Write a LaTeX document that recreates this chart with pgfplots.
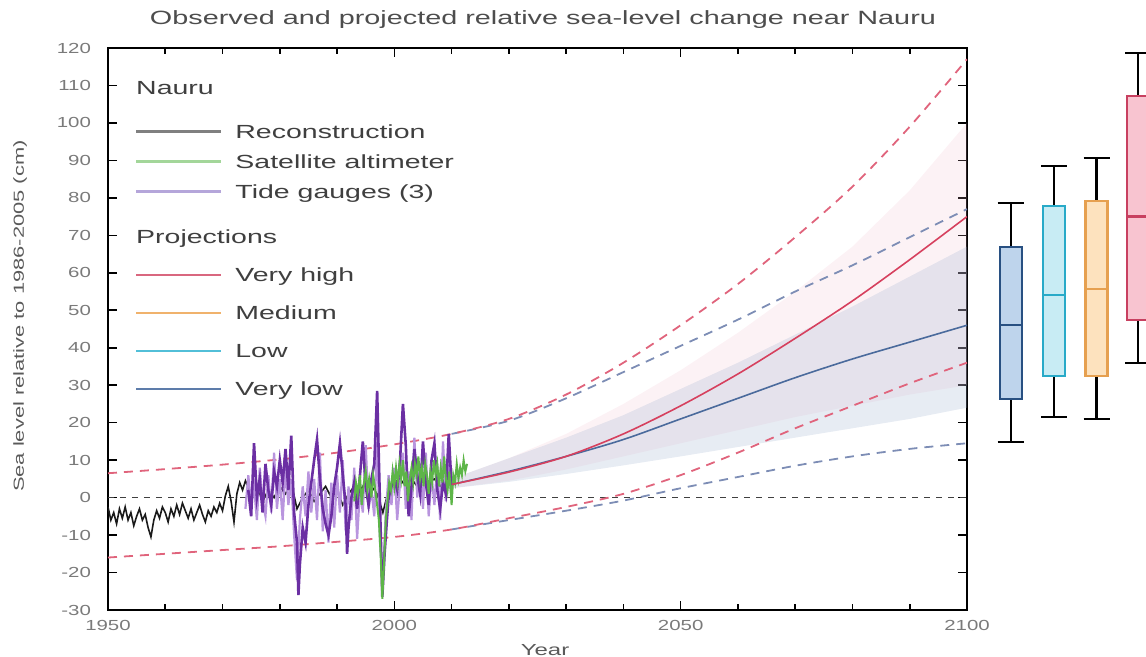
\documentclass[border=0pt]{standalone}
\usepackage{fontspec}
\setmainfont{Liberation Sans}[FakeStretch=1.5]
\newfontfamily\tickfont{Liberation Sans}[FakeStretch=1.4]
\usepackage{pgfplots}
\pgfplotsset{compat=1.18}
\definecolor{titlegray}{HTML}{4D4D4D}
\definecolor{tickgray}{HTML}{7A7A7A}
\definecolor{labgray}{HTML}{5A5A5A}
\definecolor{legtext}{HTML}{3F3F3F}
\definecolor{recon}{HTML}{1A1A1A}
\definecolor{reconleg}{HTML}{808080}
\definecolor{satgreen}{HTML}{5DB548}
\definecolor{satleg}{HTML}{A3D69A}
\definecolor{tgdark}{HTML}{6B2FA3}
\definecolor{tglight}{HTML}{B995DE}
\definecolor{tgleg}{HTML}{B5A6DA}
\definecolor{vhigh}{HTML}{D6405E}
\definecolor{vhighleg}{HTML}{D9677F}
\definecolor{medleg}{HTML}{F0B26C}
\definecolor{lowleg}{HTML}{52BFD8}
\definecolor{vlow}{HTML}{4A6A9C}
\definecolor{vlowleg}{HTML}{5D7CAA}
\definecolor{dashred}{HTML}{E0647C}
\definecolor{dashblue}{HTML}{7D8DB5}
\definecolor{bandred}{RGB}{240,185,200}
\definecolor{bandblue}{RGB}{160,178,208}
\definecolor{bxVLf}{HTML}{BED4EC}\definecolor{bxVLd}{HTML}{285082}
\definecolor{bxLf}{HTML}{C8ECF4}\definecolor{bxLd}{HTML}{28AAC8}
\definecolor{bxMf}{HTML}{FDE2BE}\definecolor{bxMd}{HTML}{E6A050}
\definecolor{bxHf}{HTML}{F8C4D0}\definecolor{bxHd}{HTML}{C84060}
\begin{document}
\begin{tikzpicture}
\begin{axis}[
  at={(54pt,23.5pt)}, anchor=south west,
  scale only axis, width=429.5pt, height=281pt,
  xmin=1950, xmax=2100, ymin=-30, ymax=120,
  xtick={1950,2000,2050,2100},
  minor xtick={1960,1970,1980,1990,2010,2020,2030,2040,2060,2070,2080,2090},
  ytick={-30,-20,...,120},
  tick align=inside,
  major tick length=4.5pt, minor tick length=3pt,
  axis line style={line width=1pt},
  tick style={black, line width=0.8pt},
  /pgf/number format/assume math mode=true,
  /pgf/number format/1000 sep={},
  tick label style={font=\fontsize{7.3}{8}\tickfont, text=tickgray},
  yticklabel style={xshift=-5pt},
  xticklabel style={yshift=-1.5pt},
  title={Observed and projected relative sea-level change near Nauru},
  title style={font=\fontsize{9.6}{11}\selectfont, text=titlegray, anchor=base, at={(axis description cs:0.5,1)}, yshift=5.75pt, xshift=2.75pt},
  xlabel={Year},
  xlabel style={at={(axis description cs:0.5,0)}, anchor=base, yshift=-23pt, xshift=3.75pt, font=\fontsize{8}{9}\selectfont, text=labgray},
  ylabel={Sea level relative to 1986-2005 (cm)},
  ylabel style={at={(axis description cs:-0.1024,0.523)}, anchor=center, font=\fontsize{7.3}{9}\selectfont, text=labgray},
  legend image code/.code={\draw[#1, line width=1.2pt] (0pt,0pt) -- (42.5pt,0pt);},
  legend style={at={(0.03143,0.9422)}, anchor=north west, draw=none, fill=none, inner sep=0pt, outer sep=0pt, row sep=7.5pt, column sep=6.5pt, cells={anchor=west}, nodes={inner sep=0pt, text height=7.2pt, text depth=0.3pt, font=\fontsize{9.5}{11}\selectfont, text=legtext}},
]
% bands
\addplot[forget plot, draw=none, fill=bandred, fill opacity=0.18] coordinates {
 (2010,5) (2020,10.5) (2030,17) (2040,25) (2050,34) (2060,44) (2070,55) (2080,67) (2090,82) (2100,100)
 (2100,30) (2090,27.5) (2080,24.5) (2070,21.5) (2060,18) (2050,14.5) (2040,11) (2030,7.5) (2020,4.5) (2010,2.5)} -- cycle;
\addplot[forget plot, draw=none, fill=bandblue, fill opacity=0.25] coordinates {
 (2010,5) (2020,10.5) (2030,16) (2040,22) (2050,29) (2060,36) (2070,43.5) (2080,51) (2090,59) (2100,67)
 (2100,24) (2090,21) (2080,18.5) (2070,16) (2060,13.5) (2050,11) (2040,8.6) (2030,6.3) (2020,4.2) (2010,2.5)} -- cycle;
% zero line
\addplot[forget plot, black!75, line width=0.6pt, dash pattern=on 3pt off 3pt] coordinates {(1950,0) (2100,0)};
% dashed envelopes
\addplot[forget plot, smooth, dashblue, line width=0.9pt, dash pattern=on 4.5pt off 3.5pt] coordinates {
 (2010,17) (2020,20.5) (2030,26.5) (2040,33.5) (2050,40.5) (2060,47.5) (2070,55) (2080,62) (2090,69.5) (2100,77)};
\addplot[forget plot, smooth, dashblue, line width=0.9pt, dash pattern=on 4.5pt off 3.5pt] coordinates {
 (2010,-8.5) (2020,-6) (2030,-3.5) (2040,-0.8) (2050,2.5) (2060,5.5) (2070,8.5) (2080,11) (2090,13) (2100,14.5)};
\addplot[forget plot, smooth, dashred, line width=0.9pt, dash pattern=on 4.5pt off 3.5pt] coordinates {
 (1950,6.5) (1960,7.6) (1970,8.8) (1980,10.2) (1990,12) (2000,14.2) (2010,17) (2020,21) (2030,27.5) (2040,36) (2050,46) (2060,57) (2070,69.5) (2080,83) (2090,99) (2100,117)};
\addplot[forget plot, smooth, dashred, line width=0.9pt, dash pattern=on 4.5pt off 3.5pt] coordinates {
 (1950,-16) (1960,-15) (1970,-14) (1980,-13) (1990,-11.8) (2000,-10.5) (2010,-8.5) (2020,-5.5) (2030,-2.5) (2040,1) (2050,6) (2060,12) (2070,18.5) (2080,24.5) (2090,30.5) (2100,36)};
% reconstruction
\addplot[forget plot, recon, line width=0.8pt] coordinates {
 (1950.0,-2.5) (1950.5,-6) (1951.0,-4) (1951.5,-7) (1952.0,-3) (1952.5,-5.5) (1953.0,-2.5) (1953.5,-6) (1954.0,-4) (1954.5,-7.5)
 (1955.0,-5) (1955.5,-3) (1956.0,-6) (1956.5,-4.5) (1957.0,-8) (1957.5,-10.5) (1958.0,-6) (1958.5,-3.5) (1959.0,-5.5) (1959.5,-2.5)
 (1960.0,-4) (1960.5,-6.5) (1961.0,-3) (1961.5,-5) (1962.0,-2) (1962.5,-4.5) (1963.0,-1.5) (1963.5,-3.5) (1964.0,-5.5) (1964.5,-3)
 (1965.0,-6) (1965.5,-4) (1966.0,-2) (1966.5,-4.5) (1967.0,-6.5) (1967.5,-3.5) (1968.0,-5) (1968.5,-2.5) (1969.0,-4) (1969.5,-1.5)
 (1970.0,-3.5) (1970.5,0.5) (1971.0,3) (1971.5,-1) (1972.0,-6.5) (1972.5,1) (1973.0,4) (1973.5,2) (1974.0,4.5)
 (1975,1) (1976,3) (1977,-1) (1978,2) (1979,0) (1980,3) (1981,1) (1982,4) (1983,-3) (1984,0) (1985,2) (1986,-1) (1987,1) (1988,3)
 (1989,0) (1990,2) (1991,-2) (1992,1) (1993,3) (1994,2) (1995,4) (1996,3) (1997,1) (1998,-4) (1999,2) (2000,4) (2001,5) (2002,3)
 (2003,5) (2004,3) (2005,6) (2006,4) (2007,5) (2008,3) (2009,5) (2010,4)};
% tide gauges (light)
\addplot[forget plot, tglight, line width=1.1pt] coordinates {
 (1974.0,-3) (1974.5,6) (1975.0,-2) (1975.5,3) (1976.0,-6) (1976.5,8) (1977.0,-1) (1977.5,-5) (1978.0,6) (1978.5,-4)
 (1979.0,12) (1979.5,-3) (1980.0,5) (1980.5,-6) (1981.0,8) (1981.5,-2) (1982.0,5) (1982.5,-10) (1983.0,-22) (1983.5,-6)
 (1984.0,3) (1984.5,-5) (1985.0,7) (1985.5,-4) (1986.0,5) (1986.5,-6) (1987.0,12) (1987.5,-9) (1988.0,2) (1988.5,-12)
 (1989.0,4) (1989.5,-8) (1990.0,6) (1990.5,-4) (1991.0,10) (1991.5,-9) (1992.0,3) (1992.5,-6) (1993.0,8) (1993.5,-11)
 (1994.0,2) (1994.5,-4) (1995.0,14) (1995.5,-3) (1996.0,2) (1996.5,-5) (1997.0,15) (1997.5,-12) (1998.0,-22) (1998.5,-4)
 (1999.0,6) (1999.5,-2) (2000.0,8) (2000.5,-6) (2001.0,4) (2001.5,12) (2002.0,-3) (2002.5,7) (2003.0,-6) (2003.5,16)
 (2004.0,0) (2004.5,9) (2005.0,-3) (2005.5,12) (2006.0,-5) (2006.5,6) (2007.0,-2) (2007.5,9) (2008.0,-6) (2008.5,15)
 (2009.0,-1) (2009.5,7) (2010.0,0)};
% tide gauges (dark)
\addplot[forget plot, tgdark, line width=1.3pt] coordinates {
 (1974.5,2) (1975.0,-5) (1975.5,14.5) (1976.0,0) (1976.5,5) (1977.0,-4) (1977.5,9) (1978.0,2) (1978.5,-2) (1979.0,7)
 (1979.5,3) (1980.0,10) (1980.5,4) (1981.0,13) (1981.5,2) (1982.0,16.5) (1982.5,-4) (1983.0,-12) (1983.25,-26) (1983.5,-18)
 (1984.0,-8) (1984.5,-12) (1985.0,-2) (1985.5,4) (1986.0,10) (1986.5,15.5) (1987.0,5) (1987.5,-3) (1988.0,-7) (1988.5,-10)
 (1989.0,-5) (1989.5,3) (1990.0,8) (1990.5,14.5) (1991.0,6) (1991.5,-2) (1991.75,-15) (1992.0,-8) (1992.5,0) (1993.0,4)
 (1993.5,-3) (1994.0,6) (1994.5,15) (1995.0,3) (1995.5,-2) (1996.0,5) (1996.5,9) (1997.0,28.5) (1997.3,10) (1997.6,-8)
 (1997.9,-26.5) (1998.3,-15) (1998.7,-6) (1999.0,0) (1999.5,3) (2000.0,5) (2000.5,2) (2001.0,10) (2001.5,25) (2002.0,14)
 (2002.5,-5) (2003.0,3) (2003.5,13) (2004.0,6) (2004.5,1) (2005.0,15) (2005.5,4) (2006.0,-2) (2006.5,10) (2007.0,14.5)
 (2007.5,2) (2008.0,-3) (2008.5,4) (2009.0,1) (2009.5,17) (2010.0,3) (2010.5,5)};
% satellite altimeter
\addplot[forget plot, satgreen, line width=1pt] coordinates {
 (1993.0,-1) (1993.3,4) (1993.6,1) (1994.0,6) (1994.3,-2) (1994.6,3) (1995.0,7) (1995.3,2) (1995.6,5) (1996.0,0)
 (1996.3,6) (1996.6,3) (1997.0,-2) (1997.3,-6) (1997.6,-15) (1997.9,-27) (1998.2,-18) (1998.5,-6) (1998.8,-1) (1999.1,4)
 (1999.4,2) (1999.7,7) (2000.0,3) (2000.3,8) (2000.6,4) (2000.9,9) (2001.2,5) (2001.5,10) (2001.8,3) (2002.1,7)
 (2002.4,-1) (2002.7,5) (2003.0,8) (2003.3,4) (2003.6,9) (2003.9,6) (2004.2,11) (2004.5,5) (2004.8,8) (2005.1,3)
 (2005.4,9) (2005.7,6) (2006.0,1) (2006.3,7) (2006.6,4) (2006.9,10) (2007.2,6) (2007.5,9) (2007.8,3) (2008.1,8)
 (2008.4,4) (2008.7,11) (2009.0,5) (2009.3,2) (2009.6,7) (2010.0,-2) (2010.3,6) (2010.6,4) (2010.9,9) (2011.2,5)
 (2011.5,8) (2011.8,6) (2012.1,10) (2012.4,7) (2012.7,9)};
% medians
\addplot[forget plot, smooth, vlow, line width=0.8pt] coordinates {
 (2010,3.5) (2020,7) (2030,11) (2040,15.5) (2050,21) (2060,26.5) (2070,32) (2080,37) (2090,41.5) (2100,46)};
\addplot[forget plot, smooth, vhigh, line width=0.8pt] coordinates {
 (2010,3.5) (2020,6.8) (2030,11) (2040,17) (2050,24.5) (2060,33) (2070,42.5) (2080,52.5) (2090,63.5) (2100,75)};
% legend (observations)
\addlegendimage{legend image code/.code={\node[overlay, anchor=west, inner sep=0pt, text height=7.2pt, text depth=0.3pt, font=\fontsize{9.5}{11}\selectfont, text=legtext] at (0pt,0pt) {Nauru}; \path (0pt,-10.25pt);}}
\addlegendentry{}
\addlegendimage{reconleg}
\addlegendentry{Reconstruction}
\addlegendimage{satleg}
\addlegendentry{Satellite altimeter}
\addlegendimage{tgleg}
\addlegendentry{Tide gauges (3)}
\end{axis}
% legend (projections)
\begin{axis}[
  at={(54pt,23.5pt)}, anchor=south west,
  scale only axis, width=429.5pt, height=281pt,
  xmin=0, xmax=1, ymin=0, ymax=1, hide axis,
  legend image code/.code={\draw[#1, line width=1.2pt] (0pt,0pt) -- (42.5pt,0pt);},
  legend style={at={(0.03143,0.6779)}, anchor=north west, draw=none, fill=none, inner sep=0pt, outer sep=0pt, row sep=11.5pt, column sep=6.5pt, cells={anchor=west}, nodes={inner sep=0pt, text height=7.2pt, text depth=0.3pt, font=\fontsize{9.5}{11}\selectfont, text=legtext}},
]
\addlegendimage{legend image code/.code={\node[overlay, anchor=west, inner sep=0pt, text height=7.2pt, text depth=0.3pt, font=\fontsize{9.5}{11}\selectfont, text=legtext] at (0pt,0pt) {Projections}; \path (0pt,-3.75pt);}}
\addlegendentry{}
\addlegendimage{vhighleg}
\addlegendentry{Very high}
\addlegendimage{medleg}
\addlegendentry{Medium}
\addlegendimage{lowleg}
\addlegendentry{Low}
\addlegendimage{vlowleg}
\addlegendentry{Very low}
\end{axis}
% box plots of 2100 values (x in pixel-like units)
\begin{axis}[
  at={(490pt,23.5pt)}, anchor=south west,
  scale only axis, width=83pt, height=281pt,
  xmin=980, xmax=1146, ymin=-30, ymax=120, hide axis, clip=true,
  every axis plot/.append style={line width=1.1pt},
]
% Very low
\addplot[black] coordinates {(1010.6,14.8) (1010.6,26.3)};
\addplot[black] coordinates {(1010.6,66.9) (1010.6,78.6)};
\addplot[black] coordinates {(997.6,14.8) (1023.6,14.8)};
\addplot[black] coordinates {(997.6,78.6) (1023.6,78.6)};
\addplot[draw=bxVLd, fill=bxVLf] coordinates {(999.6,26.3) (1021.6,26.3) (1021.6,66.9) (999.6,66.9)} -- cycle;
\addplot[bxVLd] coordinates {(999.6,46) (1021.6,46)};
% Low
\addplot[black] coordinates {(1054,21.6) (1054,32.4)};
\addplot[black] coordinates {(1054,77.9) (1054,88.6)};
\addplot[black] coordinates {(1041,21.6) (1067,21.6)};
\addplot[black] coordinates {(1041,88.6) (1067,88.6)};
\addplot[draw=bxLd, fill=bxLf] coordinates {(1043,32.4) (1065,32.4) (1065,77.9) (1043,77.9)} -- cycle;
\addplot[bxLd] coordinates {(1043,54.1) (1065,54.1)};
% Medium
\addplot[black] coordinates {(1096.5,21) (1096.5,32.4)};
\addplot[black] coordinates {(1096.5,79.2) (1096.5,90.7)};
\addplot[black] coordinates {(1083.5,21) (1109.5,21)};
\addplot[black] coordinates {(1083.5,90.7) (1109.5,90.7)};
\addplot[draw=bxMd, fill=bxMf] coordinates {(1085.5,32.4) (1107.5,32.4) (1107.5,79.2) (1085.5,79.2)} -- cycle;
\addplot[bxMd] coordinates {(1085.5,55.6) (1107.5,55.6)};
% Very high
\addplot[black] coordinates {(1138,36) (1138,47.4)};
\addplot[black] coordinates {(1138,107.2) (1138,118.6)};
\addplot[black] coordinates {(1125,36) (1151,36)};
\addplot[black] coordinates {(1125,118.6) (1151,118.6)};
\addplot[draw=bxHd, fill=bxHf] coordinates {(1127,47.4) (1149,47.4) (1149,107.2) (1127,107.2)} -- cycle;
\addplot[bxHd] coordinates {(1127,75) (1149,75)};
\end{axis}
\pgfresetboundingbox
\path[use as bounding box] (0pt,0pt) rectangle (573pt,328.5pt);
\end{tikzpicture}
\end{document}
